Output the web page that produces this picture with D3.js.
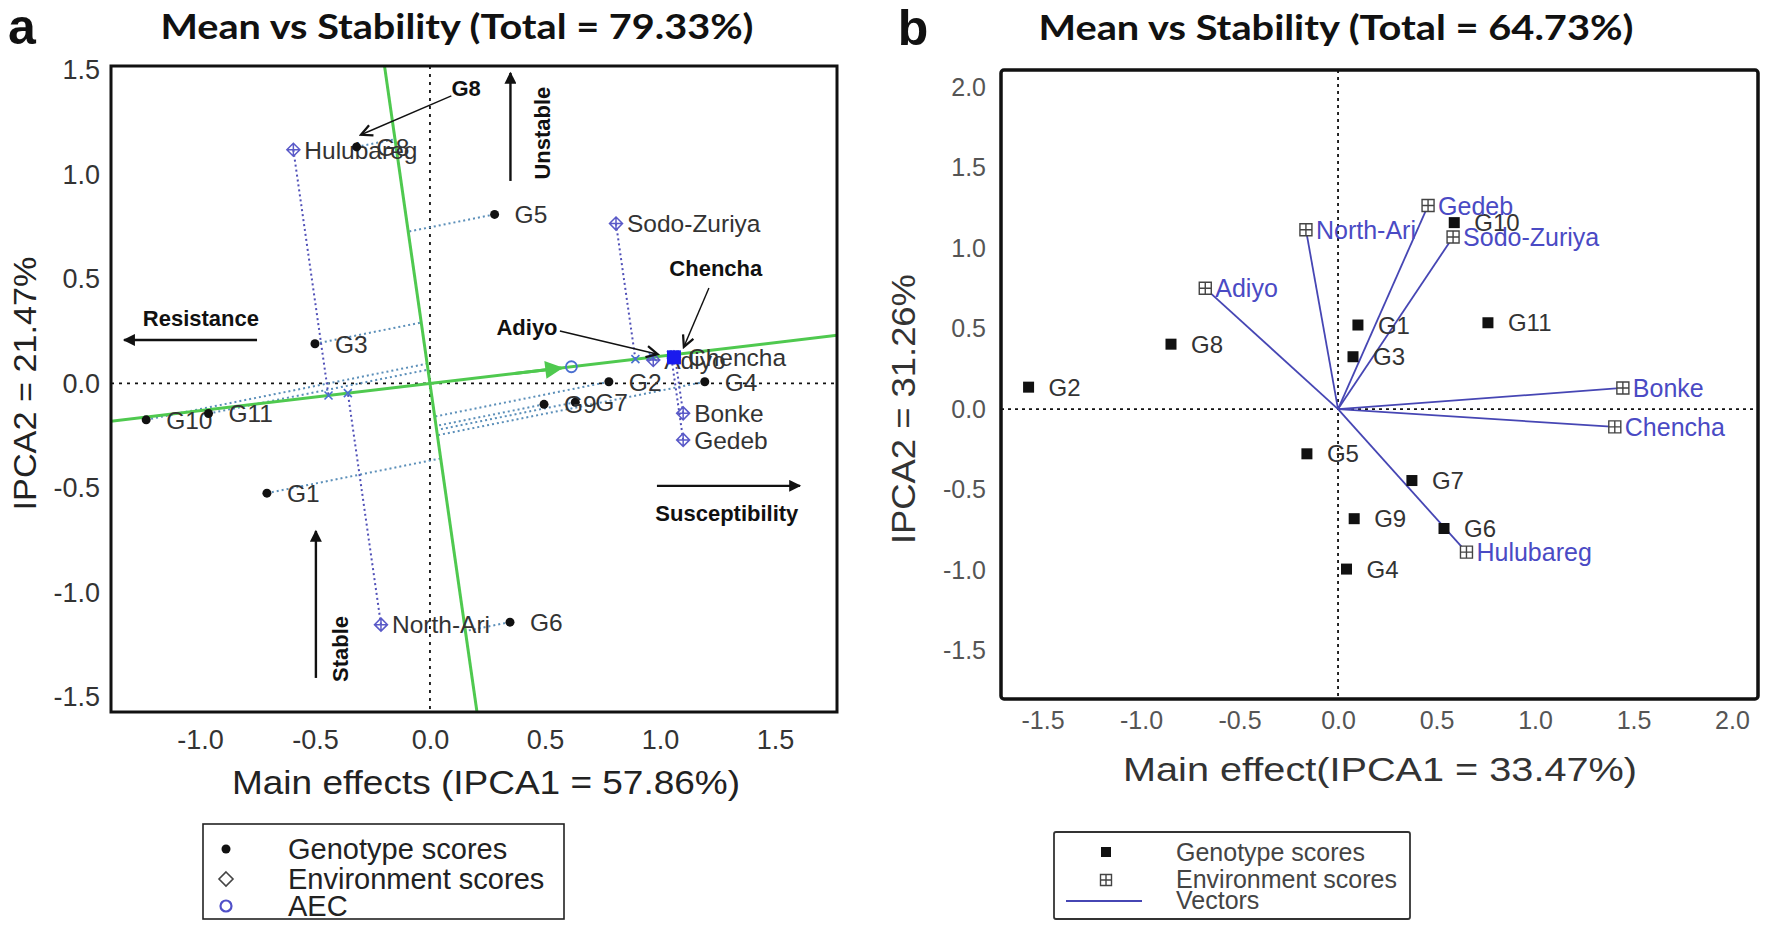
<!DOCTYPE html>
<html><head><meta charset="utf-8">
<script src="https://d3js.org/d3.v7.min.js"></script>
<style>
html,body{margin:0;padding:0;background:#fff;}
svg{display:block}
</style></head>
<body>
<svg id="chart" width="1771" height="928"></svg>
<script>
// ===== Panel a : AMMI mean vs stability =====
const genotypes = ["G1","G2","G3","G4","G5","G6","G7","G8","G9","G10","G11"];
const genoA_ipca1 = [-0.709, 0.778, -0.500, 1.195, 0.281, 0.348, 0.632, -0.319, 0.496, -1.234, -0.963];
const genoA_ipca2 = [-0.525, 0.008, 0.190, 0.008, 0.809, -1.142, -0.090, 1.132, -0.100, -0.174, -0.144];
const environments = ["Adiyo","Bonke","Chencha","Gedeb","Hulubareg","North-Ari","Sodo-Zuriya"];
const envA_ipca1 = [0.971, 1.101, 1.061, 1.101, -0.594, -0.213, 0.809];
const envA_ipca2 = [0.112, -0.143, 0.125, -0.270, 1.118, -1.154, 0.765];
const aecA = [0.615, 0.080];
const highlightEnvA = "Chencha";
const xTicksA = [-1.0, -0.5, 0.0, 0.5, 1.0, 1.5];
const yTicksA = [-1.5, -1.0, -0.5, 0.0, 0.5, 1.0, 1.5];
const titleA = "Mean vs Stability (Total = 79.33%)";
const xLabelA = "Main effects (IPCA1 = 57.86%)";
const yLabelA = "IPCA2 = 21.47%";
const legendA = ["Genotype scores", "Environment scores", "AEC"];

// ===== Panel b =====
const genoB_ipca1 = [0.101, -1.571, 0.076, 0.043, -0.158, 0.538, 0.375, -0.848, 0.082, 0.590, 0.761];
const genoB_ipca2 = [0.522, 0.136, 0.325, -0.994, -0.278, -0.742, -0.444, 0.403, -0.681, 1.158, 0.536];
const envB_ipca1 = [-0.674, 1.446, 1.405, 0.457, 0.652, -0.163, 0.584];
const envB_ipca2 = [0.750, 0.131, -0.111, 1.264, -0.889, 1.114, 1.069];
const xTicksB = [-1.5, -1.0, -0.5, 0.0, 0.5, 1.0, 1.5, 2.0];
const yTicksB = [-1.5, -1.0, -0.5, 0.0, 0.5, 1.0, 1.5, 2.0];
const titleB = "Mean vs Stability (Total = 64.73%)";
const xLabelB = "Main effect(IPCA1 = 33.47%)";
const yLabelB = "IPCA2 = 31.26%";
const legendB = ["Genotype scores", "Environment scores", "Vectors"];

const FONT = '"Liberation Sans", Arial, Helvetica, sans-serif';
const TITLEFONT = 'Lato, "Open Sans", sans-serif';
const svg = d3.select("#chart");
const defs = svg.append("defs");

function marker(id, color, open, w, h) {
  const m = defs.append("marker").attr("id", id)
    .attr("viewBox", "0 0 10 10").attr("refX", 9).attr("refY", 5)
    .attr("markerUnits", "userSpaceOnUse")
    .attr("markerWidth", w).attr("markerHeight", h).attr("orient", "auto");
  if (open) m.append("path").attr("d", "M1,1 L9,5 L1,9").attr("fill", "none").attr("stroke", color).attr("stroke-width", 1.6);
  else m.append("path").attr("d", "M0,0 L10,5 L0,10 Z").attr("fill", color);
}
marker("arrBlack", "#111", false, 14, 12);
marker("arrOpen", "#111", true, 16, 14);
marker("arrGreen", "#4fc94f", false, 22, 18);

const fmt = d => d.toFixed(1);
const envColor = "#5a5ac8";

function diamondPlus(g, cx, cy, r, color, sw) {
  g.append("path").attr("d", `M${cx},${cy-r} L${cx+r},${cy} L${cx},${cy+r} L${cx-r},${cy} Z M${cx},${cy-r} L${cx},${cy+r} M${cx-r},${cy} L${cx+r},${cy}`)
    .attr("fill", "none").attr("stroke", color).attr("stroke-width", sw || 1.4);
}
function squarePlus(g, cx, cy, r, color) {
  g.append("path").attr("d", `M${cx-r},${cy-r} H${cx+r} V${cy+r} H${cx-r} Z M${cx},${cy-r} V${cy+r} M${cx-r},${cy} H${cx+r}`)
    .attr("fill", "#fff").attr("stroke", color).attr("stroke-width", 1.4);
}

// ======================= PANEL A ===========================
(function () {
  const L = 111, R = 837, T = 66, B = 712;
  const x = d3.scaleLinear().domain([-1.387, 1.770]).range([L, R]);
  const y = d3.scaleLinear().domain([-1.572, 1.519]).range([B, T]);
  const g = svg.append("g");

  defs.append("clipPath").attr("id", "clipA").append("rect")
    .attr("x", L).attr("y", T).attr("width", R - L).attr("height", B - T);
  const plot = g.append("g").attr("clip-path", "url(#clipA)");

  plot.append("line").attr("x1", L).attr("x2", R).attr("y1", y(0)).attr("y2", y(0))
    .attr("stroke", "#111").attr("stroke-width", 1.8).attr("stroke-dasharray", "3,5");
  plot.append("line").attr("x1", x(0)).attr("x2", x(0)).attr("y1", T).attr("y2", B)
    .attr("stroke", "#111").attr("stroke-width", 1.8).attr("stroke-dasharray", "3,5");

  const n = Math.hypot(aecA[0], aecA[1]);
  const a = [aecA[0] / n, aecA[1] / n];
  const o = [-a[1], a[0]];
  const genoProjSlope = 0.22;

  genotypes.forEach((gname, i) => {
    const gx = genoA_ipca1[i], gy = genoA_ipca2[i];
    const r = o[0] / o[1];
    const s = (r * gy - gx) / (1 - r * genoProjSlope);
    const fx = gx + s, fy = gy + genoProjSlope * s;
    plot.append("line").attr("x1", x(gx)).attr("y1", y(gy)).attr("x2", x(fx)).attr("y2", y(fy))
      .attr("stroke", "#5b8fb9").attr("stroke-width", 2).attr("stroke-dasharray", "2,3");
  });
  const feet = [];
  environments.forEach((e, i) => {
    const ex = envA_ipca1[i], ey = envA_ipca2[i];
    const t = ex * a[0] + ey * a[1];
    const fx = t * a[0], fy = t * a[1];
    feet.push([fx, fy]);
    plot.append("line").attr("x1", x(ex)).attr("y1", y(ey)).attr("x2", x(fx)).attr("y2", y(fy))
      .attr("stroke", "#5050b8").attr("stroke-width", 2).attr("stroke-dasharray", "2,3");
  });

  plot.append("line").attr("x1", x(-5 * a[0])).attr("y1", y(-5 * a[1])).attr("x2", x(5 * a[0])).attr("y2", y(5 * a[1]))
    .attr("stroke", "#4fc94f").attr("stroke-width", 3);
  plot.append("line").attr("x1", x(-5 * o[0])).attr("y1", y(-5 * o[1])).attr("x2", x(5 * o[0])).attr("y2", y(5 * o[1]))
    .attr("stroke", "#4fc94f").attr("stroke-width", 3);
  plot.append("line").attr("x1", x(0.6 * aecA[0])).attr("y1", y(0.6 * aecA[1]))
    .attr("x2", x(0.93 * aecA[0])).attr("y2", y(0.93 * aecA[1]))
    .attr("stroke", "#4fc94f").attr("stroke-width", 3).attr("marker-end", "url(#arrGreen)");

  feet.forEach(f => {
    const cx = x(f[0]), cy = y(f[1]), s = 4;
    plot.append("path").attr("d", `M${cx-s},${cy-s} L${cx+s},${cy+s} M${cx-s},${cy+s} L${cx+s},${cy-s}`)
      .attr("stroke", "#4a6fd0").attr("stroke-width", 1.6);
  });

  plot.append("circle").attr("cx", x(aecA[0])).attr("cy", y(aecA[1])).attr("r", 5.5)
    .attr("fill", "none").attr("stroke", "#4a6fd0").attr("stroke-width", 1.8);

  environments.forEach((e, i) => {
    const cx = x(envA_ipca1[i]), cy = y(envA_ipca2[i]);
    diamondPlus(plot, cx, cy, 6.5, envColor, 1.5);
    if (e === highlightEnvA) {
      plot.append("rect").attr("x", cx - 7).attr("y", cy - 7).attr("width", 14).attr("height", 14).attr("fill", "#1a1aee");
    }
    plot.append("text").attr("x", cx + (e === highlightEnvA ? 14 : 11)).attr("y", cy).attr("dy", "0.36em")
      .attr("font-family", FONT).attr("font-size", 24.5).attr("fill", "#333").text(e);
  });
  genotypes.forEach((gname, i) => {
    const cx = x(genoA_ipca1[i]), cy = y(genoA_ipca2[i]);
    plot.append("circle").attr("cx", cx).attr("cy", cy).attr("r", 4.5).attr("fill", "#111");
    plot.append("text").attr("x", cx + 20).attr("y", cy).attr("dy", "0.36em")
      .attr("font-family", FONT).attr("font-size", 24.5).attr("fill", "#333").text(gname);
  });

  function arrow(x1, y1, x2, y2, mk, w) {
    g.append("line").attr("x1", x(x1)).attr("y1", y(y1)).attr("x2", x(x2)).attr("y2", y(y2))
      .attr("stroke", "#111").attr("stroke-width", w).attr("marker-end", `url(#${mk})`);
  }
  function note(tx, ty, txt, rot) {
    const t = g.append("text").attr("x", x(tx)).attr("y", y(ty)).attr("dy", "0.36em")
      .attr("text-anchor", "middle").attr("font-family", FONT).attr("font-weight", "bold")
      .attr("font-size", 22).attr("fill", "#111").text(txt);
    if (rot) t.attr("transform", `rotate(-90,${x(tx)},${y(ty)})`);
  }
  arrow(0.35, 0.969, 0.35, 1.486, "arrBlack", 2.4); note(0.487, 1.198, "Unstable", true);
  arrow(-0.752, 0.208, -1.330, 0.208, "arrBlack", 2.4); note(-0.996, 0.313, "Resistance");
  arrow(-0.496, -1.409, -0.496, -0.706, "arrBlack", 2.4); note(-0.391, -1.270, "Stable", true);
  arrow(0.987, -0.490, 1.609, -0.490, "arrBlack", 2.4); note(1.291, -0.620, "Susceptibility");
  arrow(0.093, 1.376, -0.300, 1.190, "arrOpen", 1.4); note(0.157, 1.414, "G8");
  arrow(1.213, 0.457, 1.104, 0.175, "arrOpen", 1.4); note(1.243, 0.553, "Chencha");
  arrow(0.565, 0.251, 0.990, 0.140, "arrOpen", 1.4); note(0.422, 0.270, "Adiyo");

  g.append("rect").attr("x", L).attr("y", T).attr("width", R - L).attr("height", B - T)
    .attr("fill", "none").attr("stroke", "#111").attr("stroke-width", 3);

  const ax = g.append("g").attr("transform", `translate(0,${B})`)
    .call(d3.axisBottom(x).tickValues(xTicksA).tickSize(0).tickPadding(18).tickFormat(fmt));
  ax.select(".domain").remove();
  ax.selectAll("text").attr("font-family", FONT).attr("font-size", 27).attr("fill", "#333");
  const ay = g.append("g").attr("transform", `translate(${L},0)`)
    .call(d3.axisLeft(y).tickValues(yTicksA).tickSize(0).tickPadding(11).tickFormat(fmt));
  ay.select(".domain").remove();
  ay.selectAll("text").attr("font-family", FONT).attr("font-size", 27).attr("fill", "#333");

  g.append("text").attr("x", 486).attr("y", 794).attr("text-anchor", "middle")
    .attr("font-family", FONT).attr("font-size", 34).attr("textLength", 508).attr("lengthAdjust", "spacingAndGlyphs")
    .attr("fill", "#222").text(xLabelA);
  g.append("text").attr("transform", `translate(36,${y(0)}) rotate(-90)`).attr("text-anchor", "middle")
    .attr("font-family", FONT).attr("font-size", 32).attr("textLength", 254).attr("lengthAdjust", "spacingAndGlyphs")
    .attr("fill", "#222").text(yLabelA);

  g.append("text").attr("x", 457).attr("y", 39).attr("text-anchor", "middle")
    .attr("font-family", TITLEFONT).attr("font-weight", "bold").attr("font-size", 34)
    .attr("textLength", 593).attr("lengthAdjust", "spacingAndGlyphs").attr("fill", "#111").text(titleA);
  g.append("text").attr("x", 22).attr("y", 44).attr("text-anchor", "middle")
    .attr("font-family", FONT).attr("font-weight", "bold").attr("font-size", 50).attr("fill", "#111").text("a");

  const lg = g.append("g");
  lg.append("rect").attr("x", 203).attr("y", 824).attr("width", 361).attr("height", 95)
    .attr("fill", "#fff").attr("stroke", "#222").attr("stroke-width", 1.6);
  const ly = [849, 879, 906];
  lg.append("circle").attr("cx", 226).attr("cy", ly[0]).attr("r", 4.5).attr("fill", "#111");
  lg.append("path").attr("d", `M226,${ly[1]-7} L233,${ly[1]} L226,${ly[1]+7} L219,${ly[1]} Z`)
    .attr("fill", "none").attr("stroke", "#444").attr("stroke-width", 1.6);
  lg.append("circle").attr("cx", 226).attr("cy", ly[2]).attr("r", 5.5).attr("fill", "none")
    .attr("stroke", "#5050c8").attr("stroke-width", 2.2);
  legendA.forEach((t, i) => lg.append("text").attr("x", 288).attr("y", ly[i]).attr("dy", "0.36em")
    .attr("font-family", FONT).attr("font-size", 29).attr("fill", "#222").text(t));
})();

// ======================= PANEL B ===========================
(function () {
  const L = 1001, R = 1758, T = 70, B = 699;
  const x = d3.scaleLinear().domain([-1.711, 2.132]).range([L, R]);
  const y = d3.scaleLinear().domain([-1.801, 2.106]).range([B, T]);
  const g = svg.append("g");

  g.append("line").attr("x1", L).attr("x2", R).attr("y1", y(0)).attr("y2", y(0))
    .attr("stroke", "#111").attr("stroke-width", 1.8).attr("stroke-dasharray", "3,4");
  g.append("line").attr("x1", x(0)).attr("x2", x(0)).attr("y1", T).attr("y2", B)
    .attr("stroke", "#111").attr("stroke-width", 1.8).attr("stroke-dasharray", "3,4");

  environments.forEach((e, i) => {
    g.append("line").attr("x1", x(0)).attr("y1", y(0)).attr("x2", x(envB_ipca1[i])).attr("y2", y(envB_ipca2[i]))
      .attr("stroke", "#4646b4").attr("stroke-width", 1.8);
  });
  genotypes.forEach((gname, i) => {
    const cx = x(genoB_ipca1[i]), cy = y(genoB_ipca2[i]);
    g.append("rect").attr("x", cx - 5.5).attr("y", cy - 5.5).attr("width", 11).attr("height", 11).attr("fill", "#111");
    g.append("text").attr("x", cx + 20).attr("y", cy).attr("dy", "0.36em")
      .attr("font-family", FONT).attr("font-size", 24).attr("fill", "#333").text(gname);
  });
  environments.forEach((e, i) => {
    const cx = x(envB_ipca1[i]), cy = y(envB_ipca2[i]);
    squarePlus(g, cx, cy, 6, "#444");
    g.append("text").attr("x", cx + 10).attr("y", cy).attr("dy", "0.36em")
      .attr("font-family", FONT).attr("font-size", 25).attr("fill", "#4a4ac4").text(e);
  });

  g.append("rect").attr("x", L).attr("y", T).attr("width", R - L).attr("height", B - T).attr("rx", 3)
    .attr("fill", "none").attr("stroke", "#111").attr("stroke-width", 3.5);

  const ax = g.append("g").attr("transform", `translate(0,${B})`)
    .call(d3.axisBottom(x).tickValues(xTicksB).tickSize(0).tickPadding(12).tickFormat(fmt));
  ax.select(".domain").remove();
  ax.selectAll("text").attr("font-family", FONT).attr("font-size", 25).attr("fill", "#555");
  const ay = g.append("g").attr("transform", `translate(${L},0)`)
    .call(d3.axisLeft(y).tickValues(yTicksB).tickSize(0).tickPadding(15).tickFormat(fmt));
  ay.select(".domain").remove();
  ay.selectAll("text").attr("font-family", FONT).attr("font-size", 25).attr("fill", "#555");

  g.append("text").attr("x", 1380).attr("y", 781).attr("text-anchor", "middle")
    .attr("font-family", FONT).attr("font-size", 34).attr("textLength", 514).attr("lengthAdjust", "spacingAndGlyphs")
    .attr("fill", "#333").text(xLabelB);
  g.append("text").attr("transform", `translate(915,${y(0)}) rotate(-90)`).attr("text-anchor", "middle")
    .attr("font-family", FONT).attr("font-size", 33).attr("textLength", 270).attr("lengthAdjust", "spacingAndGlyphs")
    .attr("fill", "#333").text(yLabelB);

  g.append("text").attr("x", 1336).attr("y", 40).attr("text-anchor", "middle")
    .attr("font-family", TITLEFONT).attr("font-weight", "bold").attr("font-size", 34)
    .attr("textLength", 595).attr("lengthAdjust", "spacingAndGlyphs").attr("fill", "#111").text(titleB);
  g.append("text").attr("x", 913).attr("y", 45).attr("text-anchor", "middle")
    .attr("font-family", FONT).attr("font-weight", "bold").attr("font-size", 50).attr("fill", "#111").text("b");

  const lg = g.append("g");
  lg.append("rect").attr("x", 1054).attr("y", 832).attr("width", 356).attr("height", 87).attr("rx", 2)
    .attr("fill", "#fff").attr("stroke", "#333").attr("stroke-width", 1.8);
  const ly = [852, 879, 900];
  lg.append("rect").attr("x", 1101).attr("y", ly[0] - 5).attr("width", 10).attr("height", 10).attr("fill", "#111");
  squarePlus(lg, 1106, ly[1] + 1, 5.5, "#444");
  lg.append("line").attr("x1", 1066).attr("x2", 1142).attr("y1", ly[2] + 1).attr("y2", ly[2] + 1)
    .attr("stroke", "#4646b4").attr("stroke-width", 2);
  legendB.forEach((t, i) => lg.append("text").attr("x", 1176).attr("y", ly[i]).attr("dy", "0.36em")
    .attr("font-family", FONT).attr("font-size", 25).attr("fill", "#444").text(t));
})();
</script>
</body></html>
